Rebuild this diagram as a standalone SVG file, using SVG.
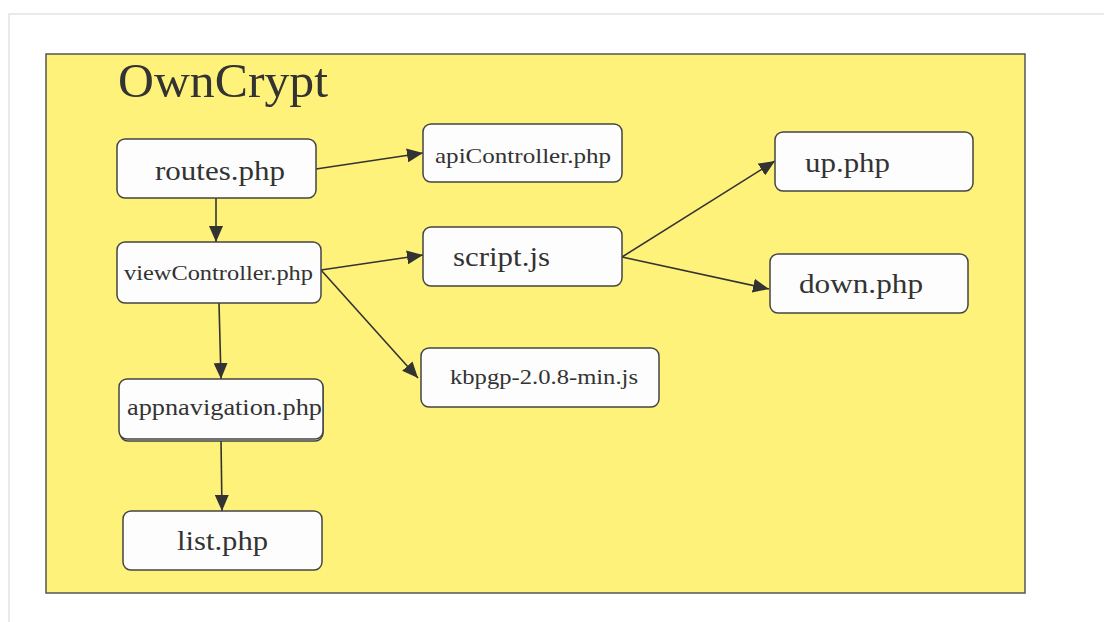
<svg xmlns="http://www.w3.org/2000/svg" width="1104" height="622" viewBox="0 0 1104 622">
  <defs>
    <marker id="arrow" viewBox="0 0 16 14" refX="16" refY="7" markerWidth="16" markerHeight="14" markerUnits="userSpaceOnUse" orient="auto">
      <path d="M0,0 L16,7 L0,14 Z" fill="#333"/>
    </marker>
  </defs>
  <style>
    .frame { fill: none; stroke: #e4e4e4; stroke-width: 1.5; }
    .container { fill: #fff27b; stroke: #555; stroke-width: 1.5; }
    .node rect { fill: #fdfdfd; stroke: #444; stroke-width: 1.5; }
    .node text { font-family: "Liberation Serif", "Times New Roman", serif; fill: #333; }
    .edges line { stroke: #333; stroke-width: 1.6; marker-end: url(#arrow); }
    .title { font-family: "Liberation Serif", "Times New Roman", serif; font-size: 48px; fill: #333; }
  </style>

  <rect width="1104" height="622" fill="#ffffff"/>
  <!-- page frame -->
  <path class="frame" d="M9,622 V14 H1104"/>

  <!-- system boundary -->
  <g id="owncrypt">
    <rect class="container" x="46" y="54" width="979" height="539"/>
    <text class="title" x="118" y="97" textLength="210" lengthAdjust="spacingAndGlyphs">OwnCrypt</text>
  </g>

  <!-- connectors -->
  <g class="edges" id="edges">
    <line x1="316" y1="169" x2="423" y2="153"/>
    <line x1="216" y1="198" x2="216" y2="242"/>
    <line x1="321" y1="270" x2="423" y2="255"/>
    <line x1="321" y1="270" x2="418" y2="378"/>
    <line x1="219" y1="303" x2="221" y2="379"/>
    <line x1="221" y1="440" x2="222" y2="511"/>
    <line x1="622" y1="257" x2="775" y2="161"/>
    <line x1="622" y1="257" x2="769" y2="289"/>
  </g>

  <g class="node" id="routes">
    <rect x="117" y="139" width="199" height="59" rx="8"/>
    <text x="155" y="180" font-size="28" textLength="130" lengthAdjust="spacingAndGlyphs">routes.php</text>
  </g>

  <g class="node" id="apiController">
    <rect x="423" y="124" width="199" height="58" rx="8"/>
    <text x="435" y="163" font-size="22" textLength="176" lengthAdjust="spacingAndGlyphs">apiController.php</text>
  </g>

  <g class="node" id="viewController">
    <rect x="117" y="242" width="204" height="61" rx="8"/>
    <text x="124" y="280" font-size="21" textLength="189" lengthAdjust="spacingAndGlyphs">viewController.php</text>
  </g>

  <g class="node" id="script">
    <rect x="423" y="227" width="199" height="59" rx="8"/>
    <text x="453" y="266" font-size="28" textLength="97" lengthAdjust="spacingAndGlyphs">script.js</text>
  </g>

  <g class="node" id="up">
    <rect x="775" y="132" width="198" height="59" rx="8"/>
    <text x="805" y="172" font-size="28" textLength="85" lengthAdjust="spacingAndGlyphs">up.php</text>
  </g>

  <g class="node" id="down">
    <rect x="770" y="254" width="198" height="59" rx="8"/>
    <text x="799" y="293" font-size="28" textLength="124" lengthAdjust="spacingAndGlyphs">down.php</text>
  </g>

  <g class="node" id="kbpgp">
    <rect x="421" y="348" width="238" height="59" rx="8"/>
    <text x="450" y="384" font-size="22" textLength="188" lengthAdjust="spacingAndGlyphs">kbpgp-2.0.8-min.js</text>
  </g>

  <g class="node" id="appnavigation">
    <rect x="120" y="381" width="203" height="60" rx="8" fill="#555" stroke="#555"/>
    <rect x="119" y="379" width="204" height="60" rx="8"/>
    <text x="127" y="415" font-size="24" textLength="195" lengthAdjust="spacingAndGlyphs">appnavigation.php</text>
  </g>

  <g class="node" id="list">
    <rect x="123" y="511" width="199" height="59" rx="8"/>
    <text x="177" y="550" font-size="28" textLength="91" lengthAdjust="spacingAndGlyphs">list.php</text>
  </g>
</svg>
